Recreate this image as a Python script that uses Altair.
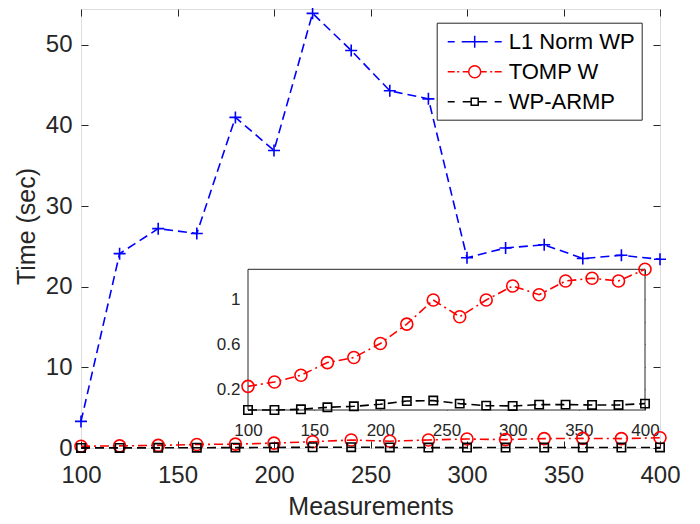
import altair as alt
import pandas as pd

# ---------------- data ----------------
measurements = [100, 120, 140, 160, 180, 200, 220, 240, 260, 280, 300, 320, 340, 360, 380, 400]
l1_norm_wp = [3.3, 24.1, 27.2, 26.6, 41.0, 36.9, 53.9, 49.3, 44.3, 43.3, 23.6, 24.8, 25.2, 23.5, 23.9, 23.4]
tomp_w = [0.224, 0.263, 0.323, 0.436, 0.481, 0.606, 0.779, 0.994, 0.845, 0.994, 1.119, 1.041, 1.164, 1.188, 1.164, 1.268]
wp_armp = [0.013, 0.013, 0.019, 0.037, 0.046, 0.064, 0.093, 0.097, 0.070, 0.052, 0.049, 0.061, 0.061, 0.058, 0.058, 0.070]

series_names = ["L1 Norm WP", "TOMP W", "WP-ARMP"]
series_colors = ["#0000ff", "#ff0000", "#000000"]

x_ticks = [100, 150, 200, 250, 300, 350, 400]
y_ticks = [0, 10, 20, 30, 40, 50]
inset_x_ticks = [100, 150, 200, 250, 300, 350, 400]
inset_y_ticks = [0.2, 0.4, 0.6, 0.8, 1.0, 1.2]
inset_y_labels = ["0.2", "", "0.6", "", "1", ""]

main_xlim = [100, 400]
main_ylim = [0, 54.44]
inset_xlim = [100, 400]
inset_ylim = [0.013, 1.268]

rows = []
for name, vals in zip(series_names, [l1_norm_wp, tomp_w, wp_armp]):
    for m, v in zip(measurements, vals):
        rows.append({"series": name, "m": m, "t": v})
df = pd.DataFrame(rows)
frame_df = pd.DataFrame([{"x0": inset_xlim[0], "x1": inset_xlim[1], "y0": inset_ylim[0], "y1": inset_ylim[1]}])

# ---------------- layout / style ----------------
W, H = 579, 439
PAD_L, PAD_T = 73, 1
TICK = 7
ITICK = 5
IX0, IX1 = 167, 564          # inset x range (px in plot coords)
IYB, IYT = 401, 260.3        # inset y range (bottom, top)
FONT = "Liberation Sans"
AX = "#262626"

LW = 1.6
DASH = [9, 5]
DASHDOT = [9, 4, 2, 4]
PLUS = "M-1,0H1M0,-1V1"
MSIZE = 144
SQSIZE = 70

# legend symbols (line sample + marker); path units: px / LS (LS = sqrt(symbolSize)/2)
LEG_SYM = 484
LS = 11.0

def seg_path(segs):
    return "".join(f"M{a/LS:.4f},0H{b/LS:.4f}" for a, b in segs)

r = 6 / LS
leg_l1 = seg_path([(-27, -20), (-13, 13), (20, 27)]) + f"M0,{-r:.4f}V{r:.4f}"
leg_tomp = seg_path([(-27, -20), (-17.5, -15.5), (-12, -6), (6, 12), (15.5, 17.5), (20, 27)]) + \
    f"M{r:.4f},0A{r:.4f},{r:.4f},0,1,1,{-r:.4f},0A{r:.4f},{r:.4f},0,1,1,{r:.4f},0"
s = 3.5 / LS
leg_wp = seg_path([(-27, -20), (-12, -3.5), (3.5, 12), (20, 27)]) + \
    f"M{-s:.4f},{-s:.4f}H{s:.4f}V{s:.4f}H{-s:.4f}Z"
legend_shapes = [leg_l1, leg_tomp, leg_wp]

common_axis = dict(domain=False, grid=False, tickColor=AX, tickWidth=1, labelColor=AX,
                   labelFont=FONT, labelFlush=False, labelOverlap=False)

def main_scale_x():
    return alt.Scale(domain=main_xlim, zero=False, nice=False)

def main_scale_y():
    return alt.Scale(domain=main_ylim, zero=False, nice=False)

def inset_scale_x():
    return alt.Scale(domain=inset_xlim, range=[IX0, IX1], zero=False, nice=False)

def inset_scale_y():
    return alt.Scale(domain=inset_ylim, range=[IYB, IYT], zero=False, nice=False)

# ---- main axes ----
ax_main_bottom = alt.Axis(orient="bottom", values=x_ticks, offset=-TICK, tickSize=TICK, labelPadding=15,
                          labelFontSize=24, title="Measurements", titleFont=FONT, titleFontSize=25,
                          titleFontWeight="normal", titleColor=AX, titleX=W / 2, titleY=65,
                          titleBaseline="middle", titleAlign="center", **common_axis)
ax_main_top = alt.Axis(orient="top", values=x_ticks, offset=-TICK, tickSize=TICK, labels=False, title="",
                       **common_axis)
ax_main_left = alt.Axis(orient="left", values=y_ticks, offset=-TICK, tickSize=TICK, labelPadding=9,
                        labelFontSize=24, title="Time (sec)", titleFont=FONT, titleFontSize=25,
                        titleFontWeight="normal", titleColor=AX, titleAngle=270, titleX=-62, titleY=217,
                        titleBaseline="middle", titleAlign="center", **common_axis)
ax_main_right = alt.Axis(orient="right", values=y_ticks, offset=-TICK, tickSize=TICK, labels=False, title="",
                         **common_axis)

# ---- inset axes ----
inset_label_expr = " : ".join(
    f"datum.value == {v} ? '{lab}'" for v, lab in zip(inset_y_ticks, inset_y_labels)) + " : ''"

ax_in_bottom = alt.Axis(orient="bottom", values=inset_x_ticks, offset=(IYB - ITICK) - H, tickSize=ITICK,
                        labelPadding=12, labelFontSize=17, title="", **common_axis)
ax_in_top = alt.Axis(orient="top", values=inset_x_ticks, offset=-(IYT + ITICK), tickSize=ITICK, labels=False,
                     title="", **common_axis)
ax_in_left = alt.Axis(orient="left", values=inset_y_ticks, offset=-(IX0 + ITICK), tickSize=ITICK,
                      labelPadding=8, labelFontSize=17, labelExpr=inset_label_expr, title="", **common_axis)
ax_in_right = alt.Axis(orient="right", values=inset_y_ticks, offset=(IX1 - ITICK) - W, tickSize=ITICK,
                       labels=False, title="", **common_axis)

styles = {
    "L1 Norm WP": dict(color="#0000ff", dash=DASH, shape=PLUS, size=MSIZE),
    "TOMP W": dict(color="#ff0000", dash=DASHDOT, shape="circle", size=MSIZE),
    "WP-ARMP": dict(color="#000000", dash=DASH, shape="square", size=SQSIZE),
}


def series_layers(name, sx, sy, line_axes=(None, None), point_axes=(None, None)):
    st = styles[name]
    base = alt.Chart(df).transform_filter(alt.datum.series == name)
    line = base.mark_line(color=st["color"], strokeDash=st["dash"], strokeWidth=LW, strokeCap="butt").encode(
        x=alt.X("m:Q", scale=sx(), axis=line_axes[0]),
        y=alt.Y("t:Q", scale=sy(), axis=line_axes[1]),
    )
    pts = base.mark_point(shape=st["shape"], size=st["size"], color=st["color"], filled=False,
                          strokeWidth=LW, opacity=1).encode(
        x=alt.X("m:Q", scale=sx(), axis=point_axes[0]),
        y=alt.Y("t:Q", scale=sy(), axis=point_axes[1]),
    )
    return [line, pts]


legend = alt.Legend(title=None, orient="none", legendX=355.7, legendY=13.7, padding=7,
                    fillColor="white", strokeColor=AX, symbolSize=LEG_SYM, symbolStrokeWidth=1.5,
                    symbolOpacity=1, symbolOffset=19, labelFontSize=22, labelFont=FONT,
                    labelColor="#000000", labelOffset=22, rowPadding=7)

legend_layer = alt.Chart(df).transform_filter("false").mark_point(filled=False, opacity=1).encode(
    x=alt.X("m:Q", scale=main_scale_x(), axis=None),
    y=alt.Y("t:Q", scale=main_scale_y(), axis=None),
    color=alt.Color("series:N", scale=alt.Scale(domain=series_names, range=series_colors), legend=legend),
    shape=alt.Shape("series:N", scale=alt.Scale(domain=series_names, range=legend_shapes), legend=legend),
)

main_layers = []
main_layers += series_layers("L1 Norm WP", main_scale_x, main_scale_y,
                             line_axes=(ax_main_bottom, ax_main_left),
                             point_axes=(ax_main_top, ax_main_right))
main_layers += series_layers("TOMP W", main_scale_x, main_scale_y)
main_layers += series_layers("WP-ARMP", main_scale_x, main_scale_y)
main_layers.append(legend_layer)
main = alt.layer(*main_layers).resolve_axis(x="independent", y="independent")

frame = alt.Chart(frame_df).mark_rect(fill="white", stroke=AX, strokeWidth=1).encode(
    x=alt.X("x0:Q", scale=inset_scale_x(), axis=ax_in_bottom),
    x2="x1:Q",
    y=alt.Y("y0:Q", scale=inset_scale_y(), axis=ax_in_left),
    y2="y1:Q",
)
inset_layers = [frame]
inset_layers += series_layers("TOMP W", inset_scale_x, inset_scale_y,
                              line_axes=(ax_in_top, ax_in_right))
inset_layers += series_layers("WP-ARMP", inset_scale_x, inset_scale_y)
inset = alt.layer(*inset_layers).resolve_axis(x="independent", y="independent")

chart = alt.layer(main, inset).resolve_scale(x="independent", y="independent").properties(
    width=W, height=H,
    padding={"left": PAD_L, "top": PAD_T, "right": 700 - 16 - PAD_L - W, "bottom": 74},
    autosize=alt.AutoSizeParams(type="none"),
).configure_view(stroke=AX, strokeWidth=1).configure(background="white")

chart.save("out.html", embed_options={"renderer": "svg", "actions": False})
